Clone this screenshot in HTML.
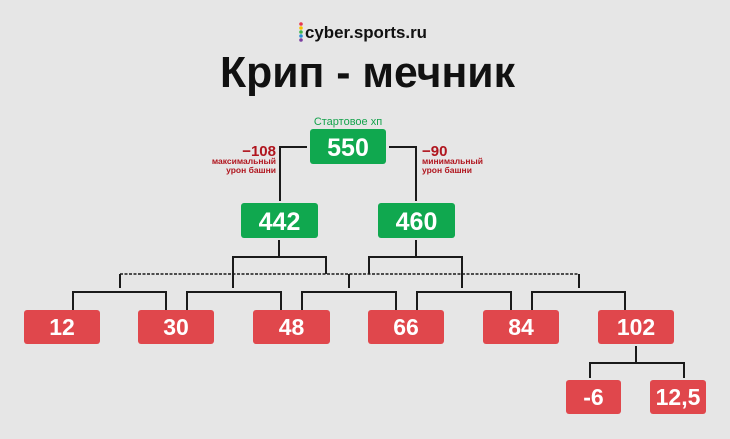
<!DOCTYPE html>
<html><head><meta charset="utf-8"><style>
html,body{margin:0;padding:0;background:#e6e6e6;}
svg{display:block;font-family:"Liberation Sans","DejaVu Sans",sans-serif;}
</style></head><body>
<svg width="730" height="439" viewBox="0 0 730 439" xmlns="http://www.w3.org/2000/svg">
<rect width="730" height="439" fill="#e6e6e6"/>
<circle cx="301" cy="24" r="1.8" fill="#e8384f"/>
<circle cx="301" cy="28" r="1.8" fill="#f5c400"/>
<circle cx="301" cy="32" r="1.8" fill="#3cb54a"/>
<circle cx="301" cy="36" r="1.8" fill="#2a8fd6"/>
<circle cx="301" cy="40" r="1.8" fill="#7b3fa0"/>
<text x="305" y="38" font-size="17" font-weight="bold" fill="#111" textLength="122" lengthAdjust="spacingAndGlyphs">cyber.sports.ru</text>
<text x="220" y="87" font-size="44" font-weight="bold" fill="#111" textLength="295" lengthAdjust="spacingAndGlyphs">Крип - мечник</text>

<g stroke="#1a1a1a" stroke-width="2" fill="none">
<polyline points="307,147 280,147 280,201"/>
<polyline points="389,147 416,147 416,201"/>
<line x1="279" y1="240" x2="279" y2="257"/>
<line x1="416" y1="240" x2="416" y2="257"/>
<polyline points="233,274 233,257 326,257 326,274"/>
<polyline points="369,274 369,257 462,257 462,274"/>
<line x1="120" y1="274" x2="579" y2="274" stroke-dasharray="3,1.5" stroke-width="1.5"/>
<line x1="120" y1="274" x2="120" y2="288"/>
<line x1="233" y1="274" x2="233" y2="288"/>
<line x1="349" y1="274" x2="349" y2="288"/>
<line x1="462" y1="274" x2="462" y2="288"/>
<line x1="579" y1="274" x2="579" y2="288"/>
<polyline points="73,310 73,292 166,292 166,310"/>
<polyline points="187,310 187,292 281,292 281,310"/>
<polyline points="302,310 302,292 396,292 396,310"/>
<polyline points="417,310 417,292 511,292 511,310"/>
<polyline points="532,310 532,292 625,292 625,310"/>
<line x1="636" y1="346" x2="636" y2="363"/>
<polyline points="590,378 590,363 684,363 684,378"/>
</g>

<text x="348" y="125" font-size="11" fill="#14a34c" text-anchor="middle">Стартовое хп</text>
<g fill="#10a84f">
<rect x="310" y="129" width="76" height="35" rx="3"/>
<rect x="241" y="203" width="77" height="35" rx="3"/>
<rect x="378" y="203" width="77" height="35" rx="3"/>
</g>
<g fill="#fff" font-weight="bold" font-size="25" text-anchor="middle">
<text x="348" y="156">550</text>
<text x="279.5" y="230">442</text>
<text x="416.5" y="230">460</text>
</g>

<g fill="#b0151e" font-weight="bold">
<text x="276" y="156" font-size="15" text-anchor="end">−108</text>
<text x="276" y="164" font-size="8.5" text-anchor="end">максимальный</text>
<text x="276" y="173" font-size="8.5" text-anchor="end">урон башни</text>
<text x="422" y="156" font-size="15">−90</text>
<text x="422" y="164" font-size="8.5">минимальный</text>
<text x="422" y="173" font-size="8.5">урон башни</text>
</g>

<g fill="#e0474c">
<rect x="24" y="310" width="76" height="34" rx="3"/>
<rect x="138" y="310" width="76" height="34" rx="3"/>
<rect x="253" y="310" width="77" height="34" rx="3"/>
<rect x="368" y="310" width="76" height="34" rx="3"/>
<rect x="483" y="310" width="76" height="34" rx="3"/>
<rect x="598" y="310" width="76" height="34" rx="3"/>
<rect x="566" y="380" width="55" height="34" rx="3"/>
<rect x="650" y="380" width="56" height="34" rx="3"/>
</g>
<g fill="#fff" font-weight="bold" font-size="23" text-anchor="middle">
<text x="62" y="335">12</text>
<text x="176" y="335">30</text>
<text x="291.5" y="335">48</text>
<text x="406" y="335">66</text>
<text x="521" y="335">84</text>
<text x="636" y="335">102</text>
<text x="593.5" y="405">-6</text>
<text x="678" y="405">12,5</text>
</g>
</svg>
</body></html>
